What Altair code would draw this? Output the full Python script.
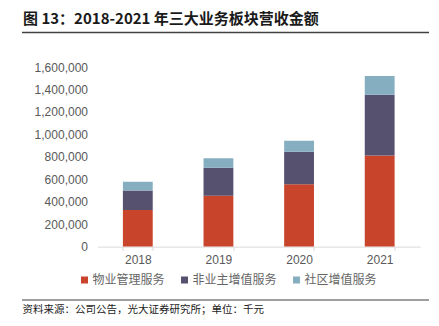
import altair as alt
import pandas as pd

years = ["2018", "2019", "2020", "2021"]
series = ["物业管理服务", "非业主增值服务", "社区增值服务"]
property_mgmt = [327000, 452000, 556000, 812000]
non_owner = [172000, 250000, 289000, 541000]
community = [78000, 86000, 98000, 167000]
colors = ["#C8442A", "#56516F", "#86AEC1"]
y_ticks = [0, 200000, 400000, 600000, 800000, 1000000, 1200000, 1400000, 1600000]

title_text = "图 13：2018-2021 年三大业务板块营收金额"
source_text = "资料来源：公司公告，光大证券研究所；单位：千元"

rows = []
for i, y in enumerate(years):
    for j, (name, vals) in enumerate(zip(series, [property_mgmt, non_owner, community])):
        rows.append({"year": y, "series": name, "value": vals[i], "idx": j})
df = pd.DataFrame(rows)

bars = alt.Chart(df).mark_bar().encode(
    x=alt.X("year:N", sort=years,
            scale=alt.Scale(paddingInner=0.63, paddingOuter=0.315),
            axis=alt.Axis(title=None, labelAngle=0, labelFontSize=12, labelColor="#595959",
                          labelFont="Liberation Sans", domainColor="#D9D9D9", domainWidth=1,
                          tickColor="#D9D9D9", tickSize=4, tickBand="extent", labelPadding=4,
                          grid=False)),
    y=alt.Y("value:Q", stack="zero",
            scale=alt.Scale(domain=[0, 1600000], nice=False),
            axis=alt.Axis(title=None, values=y_ticks, format=",d", labelFontSize=12,
                          labelColor="#595959", labelFont="Liberation Sans", domain=False,
                          ticks=False, grid=False, labelPadding=10)),
    color=alt.Color("series:N", sort=series,
                    scale=alt.Scale(domain=series, range=colors),
                    legend=alt.Legend(title=None, orient="none", legendX=-19, legendY=207,
                                      direction="horizontal", symbolType="square",
                                      symbolSize=49, symbolStrokeWidth=0,
                                      labelFontSize=12, labelColor="#666666",
                                      labelFont="Noto Sans CJK SC", columnPadding=13,
                                      labelOffset=2, padding=0)),
    order=alt.Order("idx:Q", sort="ascending"),
)

title = alt.Chart(pd.DataFrame({"t": [title_text]})).mark_text(
    align="left", baseline="middle", font="Noto Sans CJK SC", fontWeight="bold",
    fontSize=15, color="#1A1A1A"
).encode(x=alt.value(-74.5), y=alt.value(-48), text="t:N")

source = alt.Chart(pd.DataFrame({"t": [source_text]})).mark_text(
    align="left", baseline="middle", font="Noto Sans CJK SC",
    fontSize=10.5, color="#1A1A1A"
).encode(x=alt.value(-75), y=alt.value(242.5), text="t:N")

line_df = pd.DataFrame({"k": [0]})
top_rule = alt.Chart(line_df).mark_rule(color="#404040", strokeWidth=1.5).encode(
    x=alt.value(-75.5), x2=alt.value(331.5), y=alt.value(-34.5))
bottom_rule = alt.Chart(line_df).mark_rule(color="#404040", strokeWidth=1.2).encode(
    x=alt.value(-75.5), x2=alt.value(331.5), y=alt.value(233))

chart = alt.layer(bars, title, source, top_rule, bottom_rule).properties(
    width=322.5, height=179.6,
    padding={"left": 97.5, "top": 67, "right": 19, "bottom": 79.4},
    autosize=alt.AutoSizeParams(type="none"),
    background="white",
).configure_view(stroke=None)

chart.save("out.html", embed_options={"renderer": "svg", "actions": False})
